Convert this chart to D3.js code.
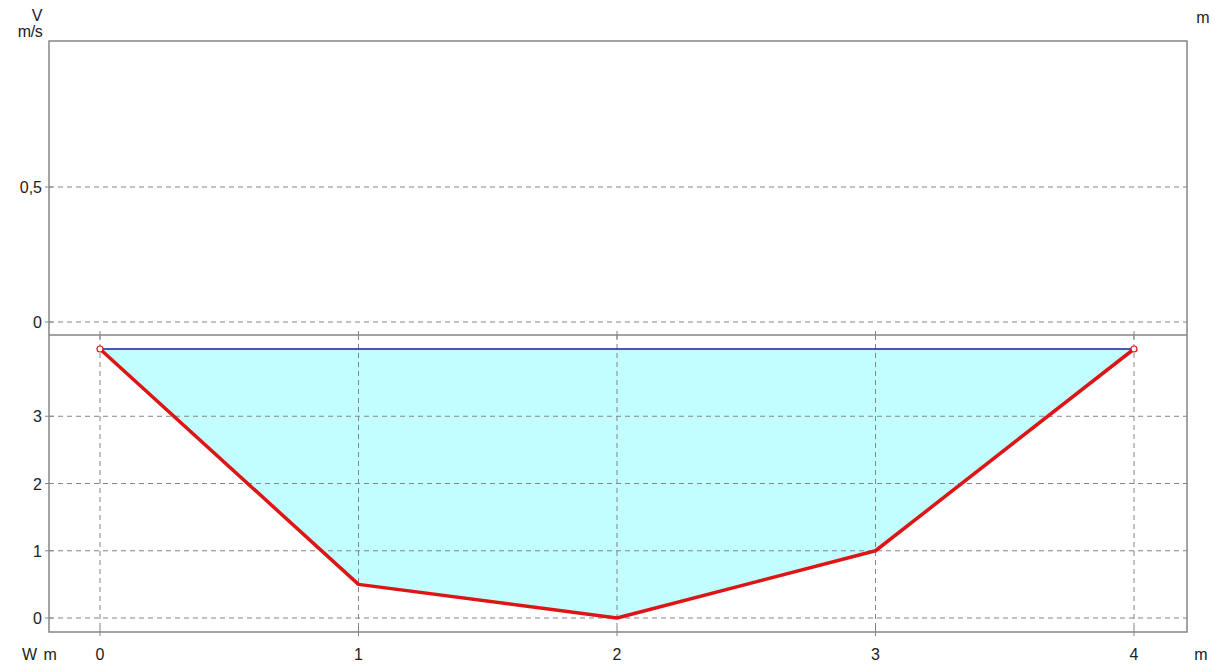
<!DOCTYPE html>
<html><head><meta charset="utf-8">
<script src="https://cdn.jsdelivr.net/npm/d3@7"></script>
<style>body{margin:0;background:#fff;}svg{display:block;}text{font-family:"Liberation Sans",Arial,sans-serif;font-size:16px;fill:#222;}</style>
</head><body>
<svg id="c" width="1217" height="666"></svg>
<script>
// data
const stations = [0, 1, 2, 3, 4];            // horizontal position W (m)
const bedHeights = [4.0, 0.5, 0.0, 1.0, 4.0]; // bed profile (m)
const waterLevel = 4.0;
const xTicks = [0, 1, 2, 3, 4];
const lowerTicks = [0, 1, 2, 3];
const upperTicks = [0, 0.5];
const upperTickLabels = ["0", "0,5"];

const svg = d3.select("#c");
const L = 49, R = 1187, T = 41, B = 632, D = 335;
const x = d3.scaleLinear().domain([0, 4]).range([100, 1134]);
const yLow = d3.scaleLinear().domain([0, 4]).range([618, 349]);
const yUp = d3.scaleLinear().domain([0, 0.5]).range([322, 187]);
const grey = "#858585";

// water fill
const pts = stations.map((s, i) => [s, bedHeights[i]]);
const area = d3.area().x(d => x(d[0])).y0(yLow(waterLevel)).y1(d => yLow(d[1]));
svg.append("path").datum(pts).attr("d", area).attr("fill", "#c2fdff");

// grids
const g = svg.append("g").attr("stroke", grey).attr("stroke-dasharray", "5,4").attr("stroke-width", 1);
upperTicks.forEach(v => g.append("line").attr("x1", L).attr("x2", R).attr("y1", yUp(v)).attr("y2", yUp(v)));
lowerTicks.forEach(v => g.append("line").attr("x1", L).attr("x2", R).attr("y1", yLow(v)).attr("y2", yLow(v)));
xTicks.forEach(v => g.append("line").attr("x1", x(v)).attr("x2", x(v)).attr("y1", D).attr("y2", B));

// water surface
svg.append("line").attr("x1", x(stations[0])).attr("x2", x(stations[stations.length-1]))
  .attr("y1", yLow(waterLevel)).attr("y2", yLow(waterLevel)).attr("stroke", "#1a1aa8").attr("stroke-width", 1.5);

// bed line
svg.append("path").datum(pts).attr("d", d3.line().x(d => x(d[0])).y(d => yLow(d[1])))
  .attr("fill", "none").attr("stroke", "#dd1515").attr("stroke-width", 3.5).attr("stroke-linejoin", "round");
[0, pts.length - 1].forEach(i => svg.append("circle").attr("cx", x(pts[i][0])).attr("cy", yLow(pts[i][1]))
  .attr("r", 3).attr("fill", "#fff8f0").attr("stroke", "#dd1515").attr("stroke-width", 1.2));

// frame
const fr = svg.append("g").attr("stroke", grey).attr("stroke-width", 1.5).attr("fill", "none");
fr.append("rect").attr("x", L).attr("y", T).attr("width", R - L).attr("height", B - T);
fr.append("line").attr("x1", L).attr("x2", R).attr("y1", D).attr("y2", D);
// tick marks
const tk = svg.append("g").attr("stroke", grey).attr("stroke-width", 1);
upperTicks.forEach(v => tk.append("line").attr("x1", L - 4).attr("x2", L + 4).attr("y1", yUp(v)).attr("y2", yUp(v)));
lowerTicks.forEach(v => tk.append("line").attr("x1", L - 4).attr("x2", L + 4).attr("y1", yLow(v)).attr("y2", yLow(v)));
xTicks.forEach(v => {
  tk.append("line").attr("x1", x(v)).attr("x2", x(v)).attr("y1", B - 4).attr("y2", B + 4);
  tk.append("line").attr("x1", x(v)).attr("x2", x(v)).attr("y1", D - 4).attr("y2", D + 4);
});

// labels
upperTicks.forEach((v, i) => svg.append("text").attr("x", 42).attr("y", yUp(v) + 6).attr("text-anchor", "end").text(upperTickLabels[i]));
lowerTicks.forEach(v => svg.append("text").attr("x", 42).attr("y", yLow(v) + 6).attr("text-anchor", "end").text(v));
xTicks.forEach(v => svg.append("text").attr("x", x(v)).attr("y", 660).attr("text-anchor", "middle").text(v));
svg.append("text").attr("x", 37).attr("y", 21).attr("text-anchor", "middle").text("V");
svg.append("text").attr("x", 30).attr("y", 37).attr("text-anchor", "middle").style("letter-spacing", "-0.5px").text("m/s");
svg.append("text").attr("x", 1203).attr("y", 23).attr("text-anchor", "middle").text("m");
svg.append("text").attr("x", 22).attr("y", 660).style("word-spacing", "2px").text("W m");
svg.append("text").attr("x", 1201).attr("y", 660).attr("text-anchor", "middle").text("m");
</script>
</body></html>
